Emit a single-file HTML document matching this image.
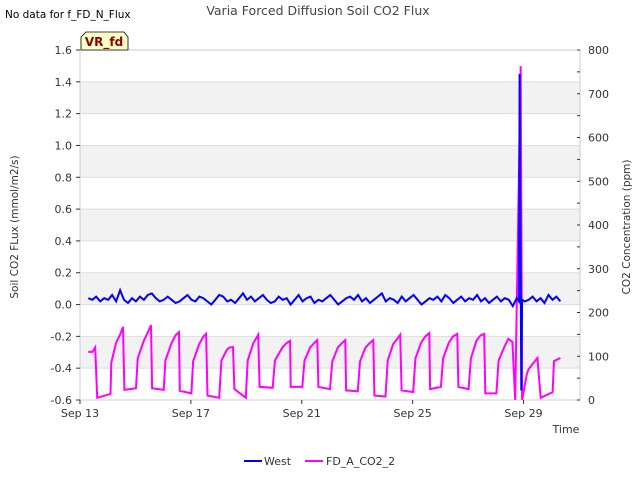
<!DOCTYPE html>
<html><head><meta charset="utf-8"><style>
body{margin:0;background:#fff;font-family:"Liberation Sans",sans-serif}
svg text{font-family:"DejaVu Sans","Liberation Sans",sans-serif}
</style></head><body>
<svg id="chart" width="640" height="480" viewBox="0 0 640 480" xmlns="http://www.w3.org/2000/svg">
<g id="bands"></g>
<g id="grid"></g>
<rect x="80" y="50" width="500" height="350" fill="none" stroke="#ccc"/>
<g id="axes"></g>
<g id="series"></g>
<text x="318" y="15" text-anchor="middle" font-size="12.5" fill="#444">Varia Forced Diffusion Soil CO2 Flux</text>
<text x="5" y="18" font-size="10.5" fill="#000">No data for f_FD_N_Flux</text>
<g><path d="M81,50 L81,37 L86,32 L124,32 L128,37 L128,50 Z" fill="#ffffc8" stroke="#000" stroke-width="0.8"/>
<text x="104" y="46" text-anchor="middle" font-size="12" font-weight="bold" fill="#8b0000">VR_fd</text></g>
<text transform="translate(18,227) rotate(-90)" text-anchor="middle" font-size="10.5" fill="#333">Soil CO2 FLux (mmol/m2/s)</text>
<text transform="translate(630,227) rotate(-90)" text-anchor="middle" font-size="10.5" fill="#333">CO2 Concentration (ppm)</text>
<text x="566" y="433" text-anchor="middle" font-size="11" fill="#333">Time</text>
<g><line x1="244" y1="461" x2="262" y2="461" stroke="#0000ff" stroke-width="2"/><text x="264" y="465" font-size="11" fill="#333">West</text></g>
<g><line x1="305" y1="461" x2="323" y2="461" stroke="#ff00ff" stroke-width="2"/><text x="326" y="465" font-size="11" fill="#333">FD_A_CO2_2</text></g>
</svg>
<script>
const leftTicks=[-0.6,-0.4,-0.2,0.0,0.2,0.4,0.6,0.8,1.0,1.2,1.4,1.6];
const rightTicks=[0,100,200,300,400,500,600,700,800];
const xTickDays=[13,17,21,25,29];
const xTickLabels=["Sep 13","Sep 17","Sep 21","Sep 25","Sep 29"];
const westStart=13.3, westEnd=30.33;
const westValues=[0.04,0.03,0.05,0.02,0.04,0.03,0.06,0.02,0.09,0.03,0.01,0.04,0.02,0.05,0.03,0.06,0.07,0.04,0.02,0.03,0.05,0.03,0.01,0.02,0.04,0.06,0.03,0.02,0.05,0.04,0.02,0.00,0.03,0.06,0.05,0.02,0.03,0.01,0.04,0.07,0.03,0.05,0.02,0.04,0.06,0.03,0.01,0.02,0.05,0.03,0.04,0.00,0.03,0.06,0.02,0.04,0.05,0.01,0.03,0.02,0.04,0.06,0.03,0.00,0.02,0.04,0.05,0.03,0.06,0.02,0.04,0.01,0.03,0.05,0.07,0.02,0.04,0.03,0.01,0.05,0.02,0.04,0.06,0.03,0.00,0.02,0.04,0.03,0.05,0.02,0.06,0.04,0.01,0.03,0.05,0.02,0.04,0.03,0.06,0.02,0.04,0.01,0.03,0.05,0.02,0.04,0.03,-0.01,0.04,0.03,0.02,0.03,0.05,0.02,0.04,0.01,0.06,0.03,0.05,0.02];
const spikeDays=[28.84,28.86,28.92,28.95];
const spikeValues=[0.02,1.45,-0.54,0.03];
const co2Days=[13.3,13.45,13.55,13.62,14.1,14.13,14.3,14.45,14.55,14.6,15.02,15.08,15.3,15.45,15.56,15.6,16.02,16.08,16.3,16.45,16.57,16.6,17.02,17.08,17.3,17.45,17.55,17.6,18.02,18.1,18.3,18.4,18.52,18.57,18.98,19.05,19.25,19.43,19.48,19.95,20.03,20.3,20.45,20.58,20.6,21.02,21.1,21.3,21.45,21.56,21.6,22.02,22.1,22.3,22.45,22.57,22.6,23.02,23.1,23.3,23.45,23.58,23.62,24.02,24.1,24.3,24.45,24.55,24.6,25.02,25.1,25.3,25.45,25.6,25.63,26.02,26.1,26.3,26.45,26.61,26.65,27.02,27.1,27.3,27.45,27.58,27.62,28.02,28.1,28.3,28.45,28.6,28.7,28.9,28.95,29.12,29.18,29.3,29.5,29.62,30.05,30.1,30.33];
const co2Values=[110,110,120,5,14,85,130,150,167,23,27,95,135,155,171,27,23,90,130,148,155,21,15,88,128,145,151,10,5,90,115,120,121,25,5,90,130,149,30,28,90,120,130,135,30,30,90,120,130,137,30,25,88,120,130,137,22,20,88,120,130,137,10,8,90,128,140,149,22,18,95,130,145,153,25,30,95,130,145,151,30,25,95,135,148,151,15,15,90,120,140,133,0,763,0,59,70,80,96,5,18,89,96];
const X=d=>80+(d-13)*27.72;
const YL=v=>400-(v+0.6)*(350/2.2);
const YR=v=>400-v*(350/800);
const NS="http://www.w3.org/2000/svg";
function mk(tag,attrs,parent){const e=document.createElementNS(NS,tag);for(const k in attrs)e.setAttribute(k,attrs[k]);document.getElementById(parent).appendChild(e);return e;}
for(let i=0;i<leftTicks.length-1;i++){if(i%2===1){const y1=YL(leftTicks[i+1]),y0=YL(leftTicks[i]);
const b=mk('rect',{x:80,y:y1,width:500,height:y0-y1,fill:'#f2f2f2'},'bands');

}}
leftTicks.forEach(t=>{const y=YL(t);
const g=mk('line',{x1:80,x2:580,y1:y,y2:y,stroke:'#ddd'},'grid');


const tk=mk('line',{x1:76,x2:80,y1:y,y2:y,stroke:'#333'},'axes');


const tx=mk('text',{x:72,y:y+4,'text-anchor':'end','font-size':11,fill:'#333'},'axes');tx.textContent=t.toFixed(1);

});
rightTicks.forEach((t,i)=>{const y=YR(t);
const tk=mk('line',{x1:577,x2:580,y1:y,y2:y,stroke:'#333'},'axes');


if(i<rightTicks.length-1){const m=mk('line',{x1:577,x2:580,y1:YR(t+50),y2:YR(t+50),stroke:'#333'},'axes');

}
const tx=mk('text',{x:588,y:y+4,'font-size':11,fill:'#333'},'axes');tx.textContent=t;

});
xTickDays.forEach((d,i)=>{const x=X(d);
const tk=mk('line',{x1:x,x2:x,y1:400,y2:404,stroke:'#333'},'axes');


const tx=mk('text',{x:x,y:417,'text-anchor':'middle','font-size':11,fill:'#333'},'axes');tx.textContent=xTickLabels[i];

});
const co2Pts=co2Days.map((d,i)=>X(d).toFixed(1)+','+YR(co2Values[i]).toFixed(1)).join(' ');
const p1=mk('polyline',{points:co2Pts,fill:'none',stroke:'#ff00ff','stroke-width':2},'series');


const step=(westEnd-westStart)/(westValues.length-1);
let wData=westValues.map((v,i)=>[westStart+i*step,v]).filter(p=>p[0]<spikeDays[0]||p[0]>spikeDays[spikeDays.length-1]);
spikeDays.forEach((d,i)=>wData.push([d,spikeValues[i]]));
wData.sort((a,b)=>a[0]-b[0]);
const wPts=wData.map(p=>X(p[0]).toFixed(1)+','+YL(p[1]).toFixed(1)).join(' ');
const p2=mk('polyline',{points:wPts,fill:'none',stroke:'#0000ff','stroke-width':2},'series');


</script>
</body></html>
